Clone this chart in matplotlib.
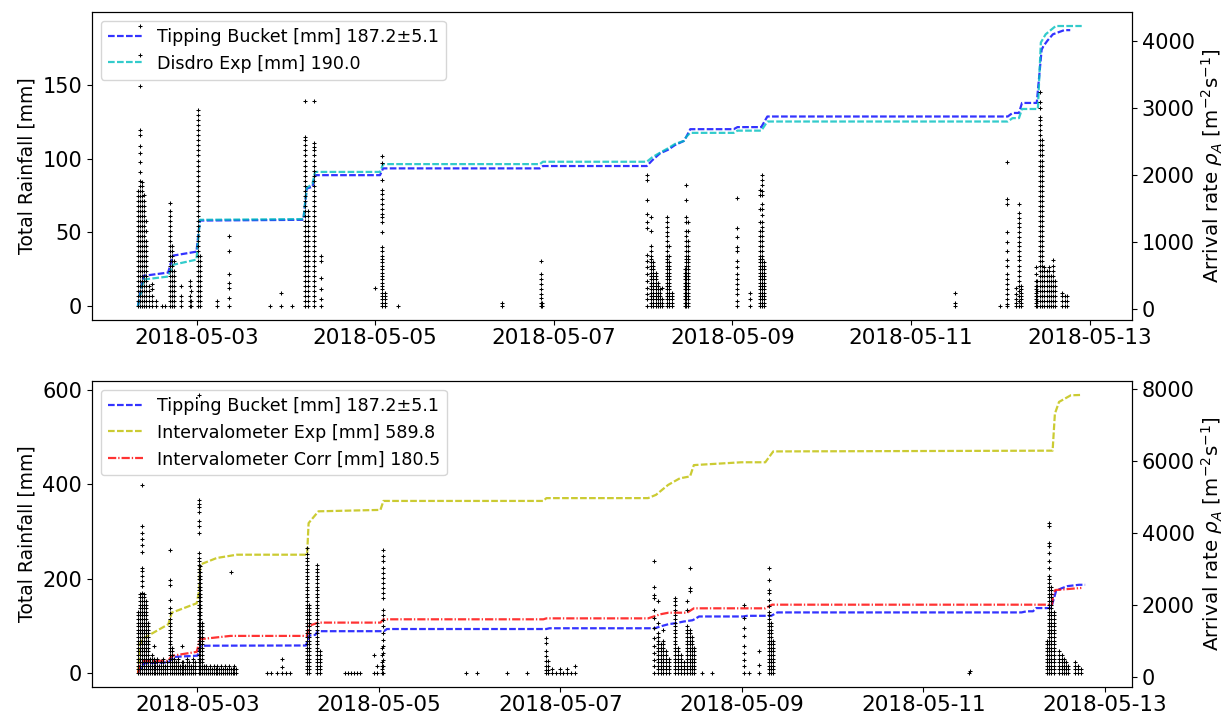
import numpy as np
import matplotlib
matplotlib.use("Agg")
import matplotlib.pyplot as plt
import matplotlib.dates as mdates

# hours after 2018-05-02 00:00
start = np.datetime64("2018-05-02T00:00")

# cumulative rainfall lines [mm]
tb_hours = [8.25, 9.77, 16.37, 17.69, 23.99, 24.9, 52.72, 53.63, 55.16, 55.87, 73.33, 74.14,
            116.28, 117.09, 145.01, 146.53, 148.56, 150.69, 152.62, 154.96, 155.67, 156.69,
            168.37, 169.38, 175.78, 177.41, 242.0, 243.3, 245.03, 245.84, 249.8, 251.12,
            251.63, 252.65, 254.16, 257.2, 258.8]
tb_mm = [0, 20.5, 22.7, 34.2, 36.9, 58.0, 58.5, 79.7, 81.0, 88.8, 88.8, 93.4, 93.4, 95.0,
         95.0, 99.0, 103.6, 106.0, 109.3, 112.0, 115.0, 120.0, 120.0, 121.4, 121.4, 128.6,
         128.6, 131.0, 131.0, 137.8, 137.8, 174.0, 176.4, 180.0, 184.4, 187.2, 187.2]

dis_hours = [8.25, 9.77, 16.37, 17.69, 23.99, 24.9, 52.72, 53.63, 55.16, 55.87, 73.33, 74.14,
             116.28, 117.09, 145.01, 146.53, 148.56, 150.69, 152.62, 154.96, 155.67, 156.69,
             168.37, 169.38, 175.78, 177.41, 242.0, 243.3, 245.03, 245.84, 250.1, 250.9,
             252.2, 254.9, 261.9]
dis_mm = [0, 18.0, 20.0, 28.0, 31.5, 58.5, 59.0, 80.0, 83.0, 91.0, 91.0, 96.3, 96.3, 97.9,
          97.9, 101.0, 104.0, 107.0, 110.0, 112.0, 115.0, 117.5, 117.5, 119.0, 119.0, 125.2,
          125.2, 127.5, 127.5, 133.7, 133.7, 178.8, 184.4, 190.0, 190.0]

iexp_hours = [8.3, 8.8, 9.3, 16.3, 17.2, 23.8, 24.5, 24.7, 29.1, 34.4, 53.0, 53.4, 56.0, 72.4,
              73.2, 115.5, 116.3, 143.2, 145.3, 148.5, 151.6, 154.3, 155.3, 167.9, 174.2, 176.3,
              250.2, 250.8, 251.9, 255.0, 257.8]
iexp_mm = [0, 60, 71.8, 103.5, 128, 148, 177, 230, 244, 251, 251, 318, 343, 346,
           365, 365, 371, 371, 378, 399, 413, 417, 441, 447, 447, 470,
           471.6, 550, 575, 589, 589.8]

icorr_hours = [8.3, 8.8, 9.3, 16.3, 17.2, 23.8, 24.7, 32.7, 53.0, 53.4, 56.0, 72.4, 73.2, 115.5,
               116.3, 143.2, 146.4, 148.6, 153.5, 155.3, 174.2, 176.0, 250.0, 250.4, 250.9, 257.8]
icorr_mm = [0, 20, 26, 26, 36.5, 45, 71.8, 78.8, 78.8, 100, 107, 107, 114, 114,
            116, 116, 124.6, 128, 128, 137.3, 137.3, 145.0, 145.0, 167, 176, 180.5]

# arrival rate columns, top panel [m^-2 s^-1]
top_rate_hours = [8.25, 8.76, 9.26, 9.77, 10.38, 11.19, 12.01, 13.02, 14.75, 15.66, 16.88, 17.39,
                  17.89, 19.82, 22.16, 22.46, 24.49, 25.0, 29.37, 32.62, 43.68, 46.83, 49.57,
                  53.23, 53.94, 55.56, 57.59, 71.91, 73.74, 74.55, 78.21, 106.13, 116.59, 116.89,
                  145.01, 146.23, 146.74, 147.35, 147.96, 148.46, 149.07, 150.5, 151.11, 151.72,
                  155.17, 155.68, 156.19, 169.18, 172.73, 175.48, 175.88, 176.49, 227.87, 239.95,
                  241.78, 244.32, 245.03, 245.53, 249.49, 250.0, 250.61, 251.12, 251.83, 252.44,
                  253.05, 253.66, 254.16, 254.67, 256.7, 257.31, 257.92]
top_rate_values = [
    [45, 120, 195, 270, 345, 420, 495, 570, 645, 720, 795, 870, 945, 1020, 1095, 1170, 1245, 1320, 1395, 1470, 1545, 1620, 1695, 1770],
    [45, 120, 195, 270, 345, 420, 495, 570, 645, 720, 795, 870, 945, 1020, 1095, 1170, 1245, 1320, 1395, 1470, 1545, 1620, 1695, 1770, 1845, 1920, 2050, 2200, 2330, 2430, 2600, 2680, 3330, 3800, 4230],
    [45, 120, 195, 270, 345, 420, 495, 570, 645, 720, 795, 870, 945, 1020, 1095, 1170, 1245, 1320, 1395, 1470, 1545, 1620, 1695, 1770, 1845, 1900],
    [45, 120, 195, 270, 345, 420, 495, 570, 645, 720, 795, 870, 945, 1020, 1095, 1170, 1245, 1320, 1395, 1470, 1545, 1620, 1700],
    [45, 120, 195, 270, 345, 420, 495, 570, 645, 720, 795, 870, 945, 1020, 1170, 1320],
    [45, 120, 195, 270, 345],
    [45, 120, 195, 300, 375],
    [45, 120],
    [45],
    [45],
    [45, 120, 195, 270, 345, 420, 495, 570, 645, 720, 795, 870, 945, 1020, 1095, 1170, 1245, 1320, 1395, 1470, 1580],
    [45, 120, 195, 270, 345, 420, 495, 570, 645, 720, 795, 870, 945],
    [45, 120, 195, 270, 345, 420, 495, 570, 720],
    [45, 120, 195, 345],
    [45, 120, 195, 345, 420],
    [45, 120, 270],
    [45, 120, 195, 270, 345, 420, 495, 570, 645, 720, 795, 870, 945, 1020, 1095, 1170, 1245, 1320, 1395, 1470, 1545, 1620, 1695, 1770, 1845, 1920, 1995, 2070, 2145, 2220, 2295, 2370, 2445, 2520, 2595, 2670, 2745, 2820, 2895, 2980],
    [45, 120, 195, 270, 345, 420, 495, 570, 645, 720, 795],
    [45, 120],
    [45, 170, 321, 396, 521, 872, 1098],
    [45],
    [45, 245],
    [45],
    [45, 120, 195, 270, 345, 420, 495, 570, 645, 720, 795, 870, 945, 1020, 1095, 1170, 1245, 1320, 1395, 1470, 1545, 1620, 1695, 1770, 1845, 1920, 1995, 2070, 2145, 2220, 2295, 2370, 2445, 2520, 2577, 3103],
    [45, 120, 195, 270, 345, 420, 495, 570, 645, 720, 795, 870, 945, 1020, 1095, 1170, 1245, 1320, 1395, 1470],
    [45, 120, 195, 270, 345, 420, 495, 570, 645, 720, 795, 870, 945, 1020, 1095, 1170, 1245, 1320, 1395, 1470, 1545, 1620, 1695, 1770, 1845, 1920, 1995, 2070, 2145, 2220, 2295, 2370, 2426, 2477, 3103],
    [45, 146, 296, 471, 722, 797],
    [320],
    [45, 95, 145, 195, 246, 296, 346, 396, 446, 496, 546, 596, 647, 697, 747, 797, 872, 922, 1148, 1298, 1374, 1424, 1499, 1574, 1650, 1725, 1775, 1925, 2176, 2286],
    [45, 95, 145, 195, 246],
    [45],
    [45, 95],
    [45, 95, 170, 221, 296, 371, 446, 521, 722],
    [45, 95],
    [45, 145, 221, 321, 421, 521, 622, 722, 812, 1213, 1298, 1424, 1634, 1925, 2000],
    [45, 95, 145, 195, 246, 296, 346, 396, 446, 496, 546, 596, 647, 697, 747, 797, 872, 947, 1173, 1374],
    [45, 95, 145, 195, 246, 296, 346, 396, 446, 496, 546, 596, 647, 697],
    [45, 95, 145, 195, 246, 296, 346, 396, 446, 496, 546],
    [45, 95, 145, 195, 246, 296, 346, 396],
    [45, 95, 145, 195, 246, 296],
    [45, 95, 145, 321],
    [45, 95, 145, 195, 246, 296, 346, 396, 446, 496, 546, 596, 647, 697, 747, 797, 872, 947, 1022, 1098, 1148, 1223, 1298, 1374],
    [45, 95, 145, 195, 246, 296, 346, 396, 446, 496, 546, 596, 647, 697, 797, 947],
    [45, 95, 145, 195, 246],
    [45, 95, 145, 195, 246, 296, 346, 396, 446, 496, 546, 596],
    [45, 95, 145, 195, 246, 296, 346, 396, 446, 496, 546, 596, 647, 697, 747, 797, 872, 947, 1022, 1098, 1173, 1298, 1374, 1634, 1850],
    [45, 95, 145, 195, 246, 296, 346, 396, 446, 496, 546, 596, 647, 697, 747, 797, 872, 947, 1022, 1173, 1298],
    [45, 120, 221, 296, 371, 446, 521, 622, 722, 872, 922, 1078, 1218, 1654],
    [45, 145, 246],
    [45, 95, 145, 195, 246, 296, 346, 396, 446, 496, 546, 596, 647, 697, 747, 797, 872, 947, 1022, 1098, 1173, 1298, 1499, 1700, 1775],
    [45, 95, 145, 195, 246, 296, 346, 396, 446, 496, 546, 596, 647, 697, 747, 797, 872, 947, 1022, 1098, 1173, 1223, 1298, 1399, 1499, 1574, 1700, 1765, 1850, 1925, 2000],
    [45, 95, 145, 195, 246, 296, 346, 396, 446, 496, 546, 596, 647, 697],
    [45, 95, 246],
    [45],
    [45, 80, 145, 221, 296, 371, 446, 521, 647, 732, 872, 1007, 1158, 1574, 1649, 2200],
    [45, 95, 145, 221, 321],
    [45, 120, 195, 270, 345, 420, 495, 570, 647, 732, 797, 872, 947, 1007, 1083, 1148, 1223, 1289, 1359, 1434, 1574],
    [45, 95, 145, 195, 246, 296, 346],
    [45, 95, 145, 195, 246, 296, 346, 421, 521, 622],
    [45, 120, 195, 270, 345, 420],
    [45, 120, 195, 270, 345, 420, 495, 570, 645, 720, 795, 870, 945, 1020, 1095, 1170, 1245, 1320, 1395, 1470, 1545, 1620, 1695, 1770, 1845, 1920, 1995, 2070, 2145, 2220, 2295, 2370, 2445, 2520, 2595, 2670, 2745, 2820, 2877, 3000, 3100, 3250],
    [45, 120, 195, 270, 345, 420, 495, 570, 645, 720, 795, 870, 945, 1020, 1095, 1170, 1245, 1320, 1395, 1470, 1545, 1620, 1695, 1770, 1845, 1920, 1995, 2070, 2145, 2220, 2295, 2370, 2445, 2520],
    [45, 120, 195, 270, 345, 420, 495, 570, 622],
    [45, 120, 195, 270, 345, 420, 495, 570],
    [45, 120, 195, 270, 345, 420, 495, 570, 622],
    [45, 120, 195, 270, 345, 420, 495],
    [45, 120, 195, 270, 345, 420, 495, 570, 645, 732],
    [45, 120, 195, 270, 345, 420],
    [45, 120, 195, 246],
    [45, 120, 195],
    [45, 120, 195],
]

# arrival rate columns, bottom panel [m^-2 s^-1]
bot_rate_hours = [8.3, 8.8, 9.3, 9.8, 10.4, 10.9, 11.4, 11.9, 12.4, 12.9, 13.4, 13.9, 14.4,
                  14.9, 15.4, 15.9, 16.8, 17.3, 17.8, 18.3, 18.8, 19.3, 19.8, 20.3, 20.8, 21.3,
                  21.8, 22.3, 22.8, 23.3, 24.3, 24.8, 25.3, 25.8, 26.3, 26.8, 27.3, 27.8, 28.3,
                  28.8, 29.3, 29.8, 30.3, 30.8, 31.3, 31.8, 32.3, 32.8, 33.3, 33.8, 34.3,
                  42.5, 43.5, 45.0, 46.3, 47.5, 48.5, 53.0, 53.6, 55.6, 56.3, 63.1, 63.9, 64.7,
                  65.5, 66.3, 67.1, 70.8, 71.4, 72.8, 73.2, 95.0, 98.0, 105.9, 111.2, 116.2,
                  116.7, 117.8, 118.8, 119.8, 120.8, 121.8, 122.8, 123.8, 144.7, 145.8, 146.5,
                  147.2, 147.9, 148.6, 150.4, 151.2, 151.9, 152.6, 153.6, 154.2, 154.8, 155.4,
                  157.5, 160.2, 168.5, 169.9, 172.5, 175.2, 175.8, 176.3, 228.0, 228.4, 248.7,
                  249.3, 249.9, 250.5, 252.0, 252.6, 253.2, 253.8, 254.4, 256.0, 256.8, 257.6]
bot_rate_values = [
    [100, 200, 300, 400, 500, 600, 700, 800, 900, 1000, 1100, 1200, 1300, 1400, 1500, 1600, 1700, 1800],
    [100, 200, 300, 400, 500, 600, 700, 800, 900, 1000, 1100, 1200, 1300, 1400, 1500, 1600, 1700, 1800, 1900, 2000, 2100, 2200, 2300],
    [100, 200, 300, 400, 500, 600, 700, 800, 900, 1000, 1100, 1200, 1300, 1400, 1500, 1600, 1700, 1800, 1900, 2000, 2100, 2200, 2322, 2507, 2645, 2784, 2923, 3015, 3460, 3645, 3830, 3986, 4197, 5326],
    [100, 200, 300, 400, 500, 600, 700, 800, 900, 1000, 1100, 1200, 1300, 1400, 1500, 1600, 1700, 1800, 1900, 2000, 2100, 2200, 2300],
    [100, 200, 300, 400, 500, 600, 700, 800, 900, 1000, 1100, 1200, 1300, 1400, 1500, 1600, 1700, 1800, 1900, 2000, 2100],
    [100, 200, 300, 400, 500, 600, 700, 800, 900, 1000, 1100, 1200, 1300, 1400, 1500],
    [100, 200, 300, 400, 500],
    [100, 200, 300, 400, 500, 600],
    [100, 200, 300, 400, 500, 840],
    [100, 200, 300, 400],
    [100, 200, 300, 400, 500],
    [100, 200, 300],
    [100, 200, 300, 400],
    [100, 200, 300, 400, 500],
    [100, 200, 300],
    [100, 200, 300, 400],
    [100, 200, 300, 400, 500, 600, 700, 800, 900, 1000, 1100, 1200, 1300, 1400, 1500, 1600, 1767, 1905, 2136, 2552, 2690, 3523],
    [100, 200, 300, 400, 500, 600, 700, 800],
    [100, 200, 300, 400, 500],
    [100, 200, 300, 400],
    [100, 200, 300, 400, 500],
    [100, 200, 300],
    [100, 200, 300, 400, 840],
    [100, 200, 300, 400],
    [100, 200, 300],
    [100, 200, 300, 400, 500],
    [100, 200, 300, 400],
    [100, 200, 300],
    [100, 200, 300, 400, 500],
    [100, 200, 300, 400],
    [100, 200, 300, 400, 500, 600, 700, 800, 900, 1000, 1100, 1200, 1300, 1400, 1500, 1600, 1700, 1800, 1900, 2000, 2100, 2200, 2300, 2400, 2500, 2600, 2700, 2800, 2900, 3000, 3100, 3200, 3300, 3430, 3985, 4170, 4309, 4586, 4725, 4808, 4910, 7823],
    [100, 200, 300, 400, 500, 600, 700, 800, 900, 1000, 1100, 1200, 1300, 1400, 1500, 1600, 1700, 1800, 1900, 2000, 2100, 2200, 2300, 2400, 2500, 2600, 2700, 2800, 2900, 3060],
    [100, 200, 300, 400, 500, 600, 700, 800, 900, 1000, 1100, 1200, 1300, 1400, 1500],
    [100, 200, 300],
    [100, 200, 300],
    [100, 200],
    [100, 200, 300],
    [100, 200],
    [100, 200, 300],
    [100, 200],
    [100, 200, 300],
    [100, 200],
    [100, 200, 300],
    [100, 200],
    [100, 200, 300],
    [100, 200],
    [100, 200, 300],
    [100, 200, 2893],
    [100, 200],
    [100, 200, 300],
    [100, 200],
    [100],
    [100],
    [100],
    [100, 268, 490],
    [100],
    [100],
    [100, 200, 300, 400, 500, 600, 700, 800, 900, 1000, 1100, 1200, 1300, 1400, 1500, 1600, 1700, 1800, 1900, 2000, 2100, 2200, 2300, 2400, 2500, 2600, 2700, 2800, 2900, 3000, 3100, 3200, 3300, 3400, 3570],
    [100, 200, 300, 400, 500, 600, 700, 800, 900, 1000, 1100, 1200, 1300, 1400, 1500, 1600, 1700, 1800, 1900, 2000],
    [100, 200, 300, 400, 500, 600, 700, 800, 900, 1000, 1100, 1200, 1300, 1400, 1500, 1600, 1700, 1800, 1900, 2000, 2100, 2200, 2300, 2400, 2500, 2600, 2700, 2800, 2900, 3000, 3107],
    [100, 200, 300, 400, 500, 600, 700],
    [100],
    [100],
    [100],
    [100],
    [100],
    [100],
    [100, 610],
    [100, 286],
    [100, 200, 300, 400, 600, 800],
    [102, 287, 472, 656, 841, 1026, 1211, 1396, 1581, 1720, 1859, 2182, 2321, 2460, 2598, 2737, 2876, 3015, 3200, 3338, 3523],
    [100],
    [100],
    [100],
    [100],
    [102, 194, 287, 426, 564, 703, 934, 1073],
    [102, 194, 287, 426],
    [100, 200],
    [100],
    [100, 200],
    [100],
    [100, 200],
    [100],
    [100, 286],
    [102, 287, 472, 656, 841, 1073, 1350, 1627, 1859, 2182, 2274, 2487, 3199],
    [100, 200, 300, 400, 500, 600, 700, 800, 900, 1000, 1100, 1200, 1500, 2090],
    [100, 200, 300, 400, 500, 600, 700, 800, 900],
    [100, 200, 300, 400, 500, 600, 700, 800, 900, 1000, 1300],
    [100, 200, 300, 400, 500, 600, 700],
    [100, 200, 300, 400, 500],
    [100, 200, 300, 400, 500, 600, 700, 800, 900, 1000, 1100, 1200, 1300, 1400, 1500, 1600, 1700, 1860, 2000, 2090, 2182],
    [100, 200, 300, 400, 500, 600, 700, 800],
    [100, 200, 300, 400, 500, 600],
    [100, 200, 300, 400],
    [100, 200, 300, 400, 500, 600, 700, 800, 900, 1000, 1100, 1200, 1300, 1400, 1859, 2090],
    [100, 200, 300, 400, 500, 600, 700, 800, 900, 1000, 1100, 1200, 1300, 2367, 2460, 3015],
    [100, 200, 300, 400, 500, 600, 700, 800, 900, 1000, 1100],
    [100, 200, 300, 400, 500, 600, 700, 800],
    [100],
    [100],
    [102, 287, 472, 656, 841, 1119, 1350, 1627, 1997],
    [100],
    [102, 332, 703],
    [100, 200, 300, 400, 500, 600, 700, 800, 900, 1000, 1100, 1200, 1300, 1400, 1500, 1600, 1700, 1800, 1951, 2136, 2321, 2413, 2691, 3015],
    [100, 200, 300, 400, 500, 600, 700, 800, 900, 1000, 1100, 1200, 1300, 1400, 1500],
    [100, 200, 300, 400, 500, 600, 700, 800, 900, 1000],
    [100],
    [150],
    [100, 200, 300, 400, 500, 600, 700, 800, 900, 1000],
    [100, 200, 300, 400, 500, 600, 700, 800, 900, 1000, 1100, 1200, 1300, 1400, 1500, 1600, 1700, 1800, 1900, 2000, 2100, 2200, 2300, 2400, 2500, 2600, 2700, 2800, 3017, 3202, 3433, 3618, 3710, 4172, 4264],
    [100, 200, 300, 400, 500, 600, 700, 800, 900, 1000, 1100, 1200, 1300, 1400, 1500, 1600, 1700, 1800, 1900, 2000, 2100, 2200, 2300, 2400, 2500],
    [100, 200, 300, 400, 500, 600, 700, 800, 900, 1000, 1100, 1200, 1300, 1400, 1500, 1600, 1700, 1800],
    [100, 200, 300, 400, 500, 600, 700],
    [100, 200, 300, 400, 500, 600],
    [100, 200, 300, 400, 500],
    [100, 200, 300, 400],
    [100, 200, 300],
    [100, 200, 300, 400],
    [100, 200, 300],
    [100, 200],
]

tb_label = "Tipping Bucket [mm] 187.2\u00b15.1"
dis_label = "Disdro Exp [mm] 190.0"
iexp_label = "Intervalometer Exp [mm] 589.8"
icorr_label = "Intervalometer Corr [mm] 180.5"
rate_label = r"Arrival rate $\rho_A$ [m$^{-2}$s$^{-1}$]"


def to_time(hours):
    return start + (np.asarray(hours) * 60).astype("timedelta64[m]")


def flatten(hours, values):
    t, v = [], []
    for h, col in zip(hours, values):
        t += [h] * len(col)
        v += col
    return to_time(t), np.array(v)


fig = plt.figure(figsize=(12.23, 7.15), dpi=100)
ax1 = fig.add_axes([0.0752, 0.5524, 0.8504, 0.4308])
ax3 = fig.add_axes([0.0752, 0.0392, 0.8504, 0.4279])

lw = 1.6
dashed = (0, (3.0, 1.05))
dashdot = (0, (3.7, 0.9, 0.6, 0.9))
ax1.plot(to_time(tb_hours), tb_mm, color="b", ls=dashed, alpha=0.8, lw=lw, label=tb_label)
ax1.plot(to_time(dis_hours), dis_mm, color="c", ls=dashed, alpha=0.8, lw=lw, label=dis_label)
ax1.set_ylabel("Total Rainfall [mm]", fontsize=13.5)
ax1.legend(loc="upper left", fontsize=12.6)

ax2 = ax1.twinx()
t, v = flatten(top_rate_hours, top_rate_values)
ax2.plot(t, v, "k+", ms=2.6, mew=0.75)
ax2.set_ylabel(rate_label, fontsize=14.3, labelpad=3)

ax3.plot(to_time(tb_hours), tb_mm, color="b", ls=dashed, alpha=0.8, lw=lw, label=tb_label)
ax3.plot(to_time(iexp_hours), iexp_mm, color="y", ls=dashed, alpha=0.8, lw=lw, label=iexp_label)
ax3.plot(to_time(icorr_hours), icorr_mm, color="r", ls=dashdot, alpha=0.8, lw=lw, label=icorr_label)
ax3.set_ylabel("Total Rainfall [mm]", fontsize=13.5)
ax3.legend(loc="upper left", fontsize=12.6)

ax4 = ax3.twinx()
t, v = flatten(bot_rate_hours, bot_rate_values)
ax4.plot(t, v, "k+", ms=2.6, mew=0.75)
ax4.set_ylabel(rate_label, fontsize=14.3, labelpad=3)

# the upper panel spans a few hours more than the lower one
xlim_top = (start + np.timedelta64(-246, "m"), start + np.timedelta64(16524, "m"))
xlim_bot = (start + np.timedelta64(-234, "m"), start + np.timedelta64(16272, "m"))
for ax in (ax1, ax2):
    ax.set_xlim(xlim_top)
for ax in (ax3, ax4):
    ax.set_xlim(xlim_bot)
for ax in (ax1, ax2, ax3, ax4):
    ax.tick_params(axis="y", labelsize=15)
for ax in (ax1, ax3):
    ax.xaxis.set_major_locator(mdates.DayLocator(bymonthday=[3, 5, 7, 9, 11, 13]))
    ax.xaxis.set_major_formatter(mdates.DateFormatter("%Y-%m-%d"))
    ax.tick_params(axis="x", labelsize=15.5, pad=2.5)
ax1.set_yticks([0, 50, 100, 150])
ax3.set_yticks([0, 200, 400, 600])
ax4.set_yticks([0, 2000, 4000, 6000, 8000])

fig.savefig("out.png", dpi=100)
